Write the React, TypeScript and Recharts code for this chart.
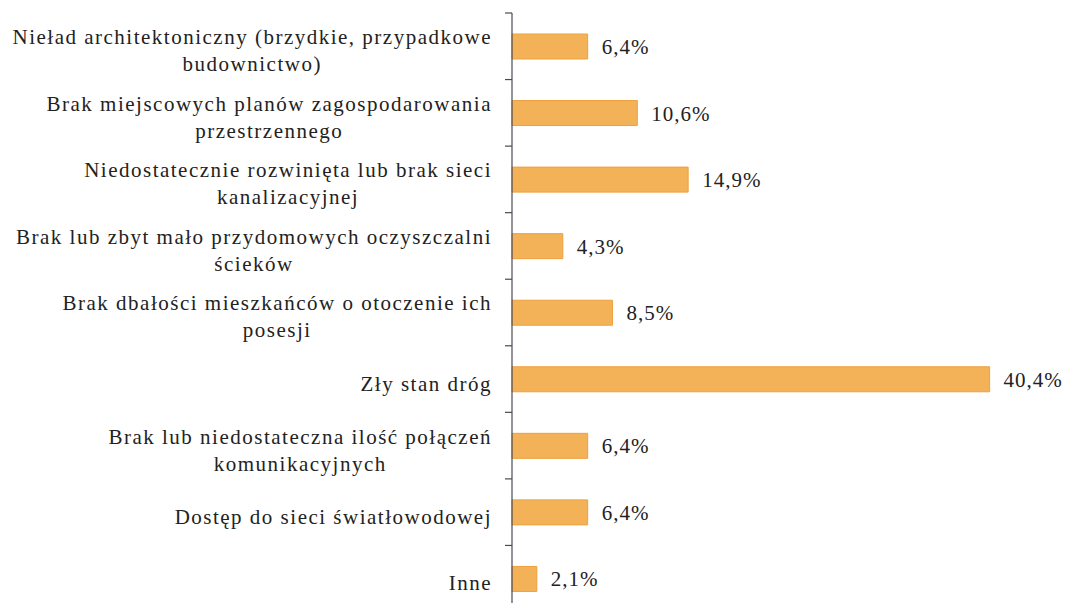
import { BarChart, Bar, XAxis, YAxis, LabelList } from "recharts";

const categories = [
  "Nieład architektoniczny (brzydkie, przypadkowe\nbudownictwo)",
  "Brak miejscowych planów zagospodarowania\nprzestrzennego",
  "Niedostatecznie rozwinięta lub brak sieci\nkanalizacyjnej",
  "Brak lub zbyt mało przydomowych oczyszczalni\nścieków",
  "Brak dbałości mieszkańców o otoczenie ich\nposesji",
  "Zły stan dróg",
  "Brak lub niedostateczna ilość połączeń\nkomunikacyjnych",
  "Dostęp do sieci światłowodowej",
  "Inne",
];

const percents = [6.4, 10.6, 14.9, 4.3, 8.5, 40.4, 6.4, 6.4, 2.1];

const data = categories.map((name, i) => ({ name, value: percents[i] }));

const CHART_W = 1070;
const CHART_H = 612;
const TOP = 13;
const AXIS_W = 512;
const BAND = (CHART_H - TOP) / categories.length;

const FONT = "'Liberation Serif', 'Times New Roman', serif";
const TEXT_COLOR = "#222";

function CategoryTick(props: any) {
  const { y, payload } = props;
  const top = y - BAND / 2;
  return (
    <g>
      <line x1={AXIS_W - 7} x2={AXIS_W} y1={top} y2={top} stroke="#4a4a55" strokeWidth={1.2} />
      <foreignObject x={0} y={top + 5} width={AXIS_W - 20} height={BAND}>
        <div style={tickBoxStyle}>
          <span style={tickTextStyle}>{payload.value}</span>
        </div>
      </foreignObject>
    </g>
  );
}

const fmt = (v: any) => `${Number(v).toFixed(1).replace(".", ",")}%`;

export default function App() {
  return (
    <div style={wrapStyle}>
      <BarChart
        width={CHART_W}
        height={CHART_H}
        data={data}
        layout="vertical"
        margin={{ top: TOP, right: 26, left: 0, bottom: 0 }}
        barCategoryGap={0}
      >
        <XAxis type="number" hide domain={[0, 45]} />
        <YAxis
          type="category"
          dataKey="name"
          width={AXIS_W}
          tickLine={false}
          axisLine={{ stroke: "#4a4a55", strokeWidth: 1.2 }}
          tick={<CategoryTick />}
          interval={0}
        />
        <Bar
          dataKey="value"
          barSize={25}
          fill="#f3b257"
          stroke="#eda13c"
          strokeWidth={1}
          isAnimationActive={false}
        >
          <LabelList
            dataKey="value"
            position="right"
            offset={14}
            formatter={fmt}
            style={{ fontFamily: FONT, fontSize: 21, fill: TEXT_COLOR, letterSpacing: 1 }}
          />
        </Bar>
      </BarChart>
    </div>
  );
}

const wrapStyle: React.CSSProperties = {
  position: "absolute",
  top: 0,
  left: 0,
  width: 1070,
  height: 603,
  overflow: "hidden",
  background: "#ffffff",
};

const tickBoxStyle: React.CSSProperties = {
  display: "flex",
  height: "100%",
  alignItems: "center",
  justifyContent: "flex-end",
};

const tickTextStyle: React.CSSProperties = {
  display: "inline-block",
  textAlign: "center",
  whiteSpace: "pre-line",
  fontFamily: FONT,
  fontSize: 21,
  lineHeight: "27px",
  letterSpacing: 1.5,
  color: TEXT_COLOR,
};
